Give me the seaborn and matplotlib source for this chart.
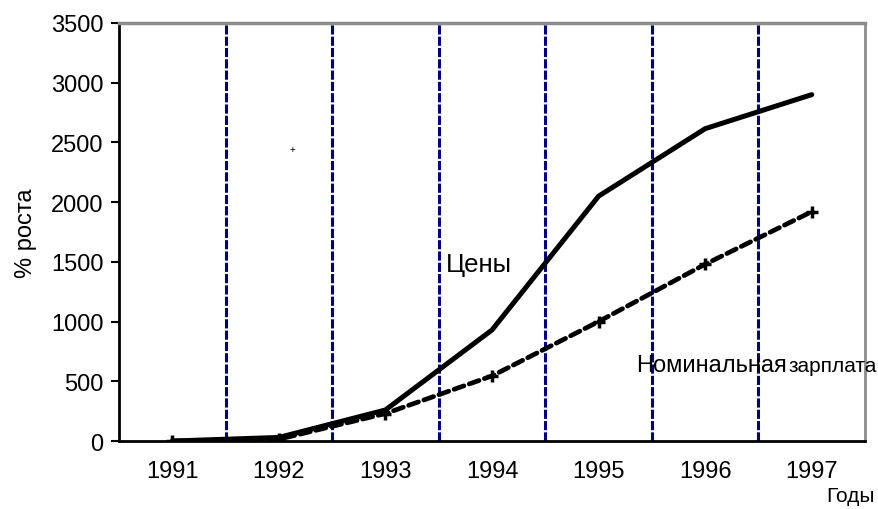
import pandas as pd
import seaborn as sns
import matplotlib.pyplot as plt
from matplotlib.ticker import FixedLocator

YEARS = ['1991', '1992', '1993', '1994', '1995', '1996', '1997']
PRICES = [0, 30, 260, 930, 2050, 2615, 2900]
WAGES = [0, 15, 230, 545, 1000, 1480, 1920]
Y_TICKS = [0, 500, 1000, 1500, 2000, 2500, 3000, 3500]

sns.set_style('white')
plt.rcParams['font.family'] = ['Liberation Sans', 'DejaVu Sans']
for key in ['text.color', 'axes.labelcolor', 'xtick.color', 'ytick.color']:
    plt.rcParams[key] = 'black'

FS = 17

df = pd.DataFrame({'year': YEARS, 'prices': PRICES, 'wages': WAGES})

fig = plt.figure(figsize=(8.79, 5.10), dpi=100)
ax = fig.add_axes([0.1354, 0.1333, 0.8487, 0.8197])

# boundaries between years
for b in range(len(YEARS) - 1):
    ax.axvline(b + 0.5, color='#000080', lw=2.2, ls=(0, (3, 0.7)), zorder=1)

sns.lineplot(data=df, x='year', y='prices', ax=ax, color='black', lw=3.6,
             sort=False, zorder=3)
sns.lineplot(data=df, x='year', y='wages', ax=ax, color='black', lw=3.4,
             sort=False, marker='+', markersize=9, markeredgewidth=2.5,
             markeredgecolor='black', dashes=False, zorder=3)
ax.lines[-1].set_linestyle((0, (2.2, 1.2)))
ax.lines[-1].set_dash_capstyle('round')

ax.set_xlim(-0.5, len(YEARS) - 0.5)
ax.set_ylim(0, 3500)
ax.set_yticks(Y_TICKS)
ax.set_xticks(range(len(YEARS)))
ax.set_xticklabels(YEARS)
ax.xaxis.set_minor_locator(FixedLocator([i + 0.5 for i in range(-1, len(YEARS))]))
ax.tick_params(axis='x', which='major', length=0, pad=14, labelsize=FS)
ax.tick_params(axis='x', which='minor', length=6, width=1.5, direction='inout', color='black')
ax.tick_params(axis='y', length=6, width=1.5, color='black', labelsize=FS, left=True, pad=5)

ax.set_xlabel('')
ax.set_ylabel('% роста', fontsize=FS, labelpad=10)

for side in ['left', 'bottom']:
    ax.spines[side].set_color('black')
    ax.spines[side].set_linewidth(2)
ax.spines['top'].set_color('#8c8c8c')
ax.spines['top'].set_linewidth(2.5)
ax.spines['right'].set_color('#8c8c8c')
ax.spines['right'].set_linewidth(2)

fig.text(446 / 879, 1 - 265 / 510, 'Цены', fontsize=18.5, va='center', ha='left')
fig.text(636 / 879, 1 - 366 / 510, 'Номинальная', fontsize=17, va='center', ha='left')
fig.text(877 / 879, 1 - 367 / 510, 'зарплата', fontsize=15, va='center', ha='right')
fig.text(851 / 879, 1 - 497 / 510, 'Годы', fontsize=15, va='center', ha='center')
fig.text(292 / 879, 1 - 150 / 510, '+', fontsize=7, va='center', ha='center')

fig.savefig('out.png', dpi=100)
